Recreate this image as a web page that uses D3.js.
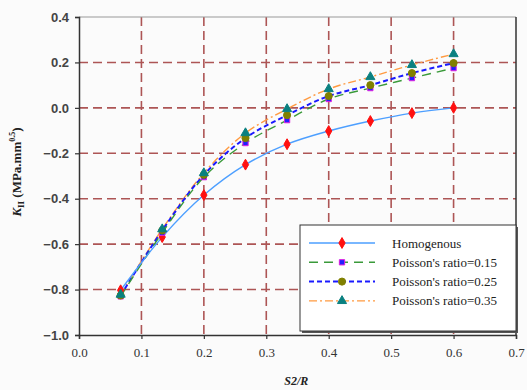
<!DOCTYPE html>
<html>
<head>
<meta charset="utf-8">
<script src="https://cdn.jsdelivr.net/npm/d3@7"></script>
<style>
  body { margin: 0; background: #fbfbfb; }
  .serif { font-family: "Liberation Serif", "DejaVu Serif", serif; }
  .sans { font-family: "Liberation Sans", Arial, sans-serif; }
</style>
</head>
<body>
<div id="chart"></div>
<script>
const xValues = [0.0667, 0.1333, 0.2, 0.2667, 0.3333, 0.4, 0.4667, 0.5333, 0.6];
const homogenous = [-0.803, -0.569, -0.384, -0.250, -0.160, -0.102, -0.058, -0.023, 0.0];
const poisson015 = [-0.830, -0.550, -0.305, -0.155, -0.054, 0.039, 0.087, 0.131, 0.175];
const poisson025 = [-0.826, -0.540, -0.295, -0.133, -0.032, 0.052, 0.100, 0.153, 0.197];
const poisson035 = [-0.822, -0.534, -0.287, -0.111, -0.005, 0.083, 0.136, 0.189, 0.237];
const xTicks = [0, 0.1, 0.2, 0.3, 0.4, 0.5, 0.6, 0.7];
const yTicks = [0.4, 0.2, 0, -0.2, -0.4, -0.6, -0.8, -1.0];
const seriesNames = ["Homogenous", "Poisson's ratio=0.15", "Poisson's ratio=0.25", "Poisson's ratio=0.35"];

const width = 527, height = 390;
const margin = {top: 17, right: 11, bottom: 55, left: 79};

const svg = d3.select("#chart")
    .append("svg")
    .attr("width", width)
    .attr("height", height)
    .style("background", "#fbfbfb");

const x = d3.scaleLinear().domain([0, 0.7]).range([margin.left, width - margin.right]);
const y = d3.scaleLinear().domain([-1.0, 0.4]).range([height - margin.bottom, margin.top]);

// grid
const grid = svg.append("g");
grid.selectAll(".hg")
    .data(yTicks.filter(d => d > -1.0 && d < 0.4))
    .join("line")
        .attr("x1", x(0)).attr("x2", x(0.7))
        .attr("y1", d => y(d)).attr("y2", d => y(d))
        .attr("stroke", "#ad5555")
        .attr("stroke-width", 1.6)
        .attr("stroke-dasharray", "9,5");
grid.selectAll(".vg")
    .data(xTicks.filter(d => d > 0 && d < 0.7))
    .join("line")
        .attr("y1", y(0.4)).attr("y2", y(-1.0))
        .attr("x1", d => x(d)).attr("x2", d => x(d))
        .attr("stroke", "#ad5555")
        .attr("stroke-width", 1.6)
        .attr("stroke-dasharray", "9,5");

// frame top / right
svg.append("line")
    .attr("x1", x(0)).attr("x2", x(0.7)).attr("y1", y(0.4)).attr("y2", y(0.4))
    .attr("stroke", "#999").attr("stroke-width", 1.2);
svg.append("line")
    .attr("x1", x(0.7)).attr("x2", x(0.7)).attr("y1", y(0.4)).attr("y2", y(-1.0))
    .attr("stroke", "#333").attr("stroke-width", 1.5);

// axes
const yAxis = svg.append("g")
    .attr("transform", `translate(${x(0)},0)`)
    .call(d3.axisLeft(y).tickValues(yTicks).tickFormat(d3.format(".1f")).tickSize(4).tickPadding(6));
yAxis.attr("font-family", null);
yAxis.selectAll("text")
    .attr("class", "sans")
    .attr("font-size", 13)
    .attr("font-weight", "bold")
    .attr("fill", "#444");

const xAxis = svg.append("g")
    .attr("transform", `translate(0,${y(-1.0)})`)
    .call(d3.axisBottom(x).tickValues(xTicks).tickFormat(d3.format(".1f")).tickSize(4).tickPadding(9));
xAxis.attr("font-family", null);
xAxis.selectAll("text")
    .attr("class", "serif")
    .attr("font-size", 13)
    .attr("fill", "#333");
svg.selectAll(".domain").attr("stroke", "#333").attr("stroke-width", 1.5);
svg.selectAll(".tick line").attr("stroke", "#333").attr("stroke-width", 1.2);

// axis titles
svg.append("text")
    .attr("class", "serif")
    .attr("x", x(0.3) + 30).attr("y", 385)
    .attr("text-anchor", "middle")
    .attr("font-size", 12)
    .attr("font-weight", "bold")
    .attr("font-style", "italic")
    .attr("fill", "#222")
    .text("S2/R");

const yt = svg.append("text")
    .attr("class", "serif")
    .attr("transform", "translate(21,172) rotate(-90)")
    .attr("text-anchor", "middle")
    .attr("font-size", 13)
    .attr("font-weight", "bold")
    .attr("fill", "#222");
yt.append("tspan").attr("font-style", "italic").text("K");
yt.append("tspan").attr("font-size", 9).attr("dy", 3).text("II");
yt.append("tspan").attr("dy", -3).text(" (MPa.mm");
yt.append("tspan").attr("font-size", 8).attr("dy", -6).text("0.5");
yt.append("tspan").attr("dy", 6).text(")");

// series
const series = [
    {name: seriesNames[0], values: homogenous, color: "#4d9fff", dash: null, width: 1.4, marker: "diamond", mfill: "#ff1010", mstroke: "#ff1010"},
    {name: seriesNames[1], values: poisson015, color: "#3a9a3a", dash: "9,6", width: 1.4, marker: "square", mfill: "#2020ff", mstroke: "#e020e0"},
    {name: seriesNames[2], values: poisson025, color: "#1a1aff", dash: "5,3", width: 2, marker: "circle", mfill: "#808000", mstroke: "#808000"},
    {name: seriesNames[3], values: poisson035, color: "#ff9a40", dash: "8,3,2,3", width: 1.4, marker: "triangle", mfill: "#0a8080", mstroke: "#0a8080"}
];

const symbolType = {diamond: d3.symbolDiamond, square: d3.symbolSquare, circle: d3.symbolCircle, triangle: d3.symbolTriangle};
const symbolSize = {diamond: 34, square: 28, circle: 40, triangle: 36};

const line = d3.line()
    .x(d => x(d[0]))
    .y(d => y(d[1]))
    .curve(d3.curveCatmullRom);

const plot = svg.append("g");
series.slice().reverse().forEach(s => {
    const pts = xValues.map((v, i) => [v, s.values[i]]);
    plot.append("path")
        .datum(pts)
        .attr("d", line)
        .attr("fill", "none")
        .attr("stroke", s.color)
        .attr("stroke-width", s.width)
        .attr("stroke-dasharray", s.dash);
});
series.forEach(s => {
    const pts = xValues.map((v, i) => [v, s.values[i]]);
    plot.selectAll(null)
        .data(pts)
        .join("path")
            .attr("transform", d => `translate(${x(d[0])},${y(d[1])})`)
            .attr("d", d3.symbol().type(symbolType[s.marker]).size(symbolSize[s.marker]))
            .attr("fill", s.mfill)
            .attr("stroke", s.mstroke)
            .attr("stroke-width", 1);
});

// legend
const lg = svg.append("g").attr("transform", "translate(300,225)");
lg.append("rect")
    .attr("x", 2).attr("y", 2).attr("width", 216).attr("height", 106)
    .attr("fill", "#555");
lg.append("rect")
    .attr("width", 216).attr("height", 106)
    .attr("fill", "#fff")
    .attr("stroke", "#333")
    .attr("stroke-width", 1);
series.forEach((s, i) => {
    const ly = 18 + i * 19.3;
    lg.append("line")
        .attr("x1", 9).attr("x2", 75).attr("y1", ly).attr("y2", ly)
        .attr("stroke", s.color)
        .attr("stroke-width", s.width)
        .attr("stroke-dasharray", s.dash);
    lg.append("path")
        .attr("transform", `translate(42,${ly})`)
        .attr("d", d3.symbol().type(symbolType[s.marker]).size(symbolSize[s.marker]))
        .attr("fill", s.mfill)
        .attr("stroke", s.mstroke);
    lg.append("text")
        .attr("class", "serif")
        .attr("x", 92).attr("y", ly + 4.5)
        .attr("font-size", 13)
        .attr("fill", "#222")
        .text(s.name);
});
</script>
</body>
</html>
